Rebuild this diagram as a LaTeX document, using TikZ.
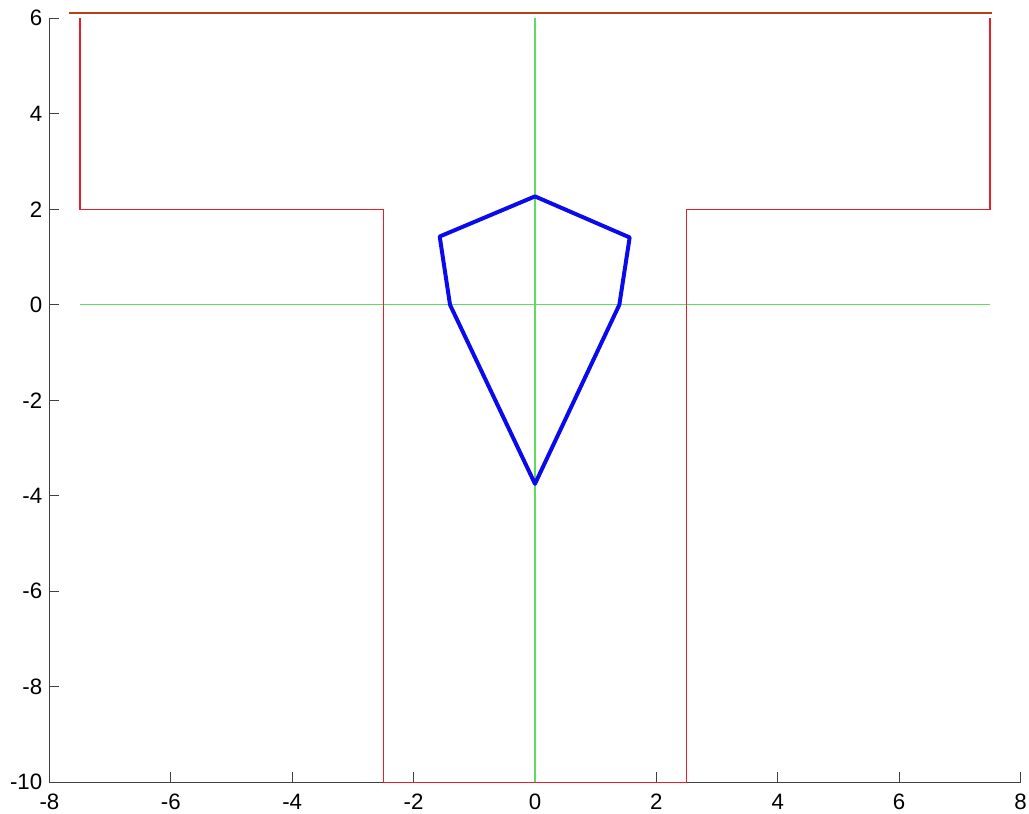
\documentclass[tikz,border=0pt]{standalone}
\usepackage{fontspec}
\setmainfont{Liberation Sans}
\usepackage{tikz}
\definecolor{wallred}{RGB}{230,30,40}
\definecolor{lidred}{RGB}{185,65,25}
\definecolor{axisgreen}{RGB}{95,220,95}
\definecolor{hullblue}{RGB}{10,10,235}
\tikzset{
    axisline/.style={line width=0.8pt, black!75},
    ticklabel/.style={inner sep=0pt, font=\fontsize{19}{21}\selectfont}
}

\begin{document}
\begin{tikzpicture}[x=1.8207cm, y=1.4325cm]
    \useasboundingbox (-8.815, -10.664) rectangle (8.140, 6.383);
    % axes
    \draw[axisline] (-8, 6) -- (-8, -10) -- (8, -10);
    \foreach \x in {-8, -6, ..., 8} {
        \draw[axisline] (\x, -10) -- ++(0pt, 8.5pt);
        \node[ticklabel, below=10pt] (xl\x) at (\x, -10) {\x};
    }
    \foreach \y in {-10, -8, ..., 6} {
        \draw[axisline] (-8, \y) -- ++(8.5pt, 0pt);
        \node[ticklabel, left=6pt] (yl\y) at (-8, \y) {\y};
    }
    % centre lines
    \draw[axisgreen, line width=1pt] (0, 6) -- (0, -10);
    \draw[axisgreen, line width=1pt] (-7.5, 0) -- (7.5, 0);
    % channel walls
    \draw[wallred, line width=1.2pt] (-7.5, 6) -- (-7.5, 2) -- (-2.5, 2) -- (-2.5, -10)
        -- (2.5, -10) -- (2.5, 2) -- (7.5, 2) -- (7.5, 6);
    \draw[lidred, line width=1.7pt] (-7.68, 6.105) -- (7.53, 6.105);
    % body
    \draw[hullblue, line width=3.4pt, line join=round] (0, 2.27) -- (1.56, 1.41) -- (1.39, 0)
        -- (0, -3.75) -- (-1.40, 0) -- (-1.57, 1.43) -- cycle;
\end{tikzpicture}
\end{document}
